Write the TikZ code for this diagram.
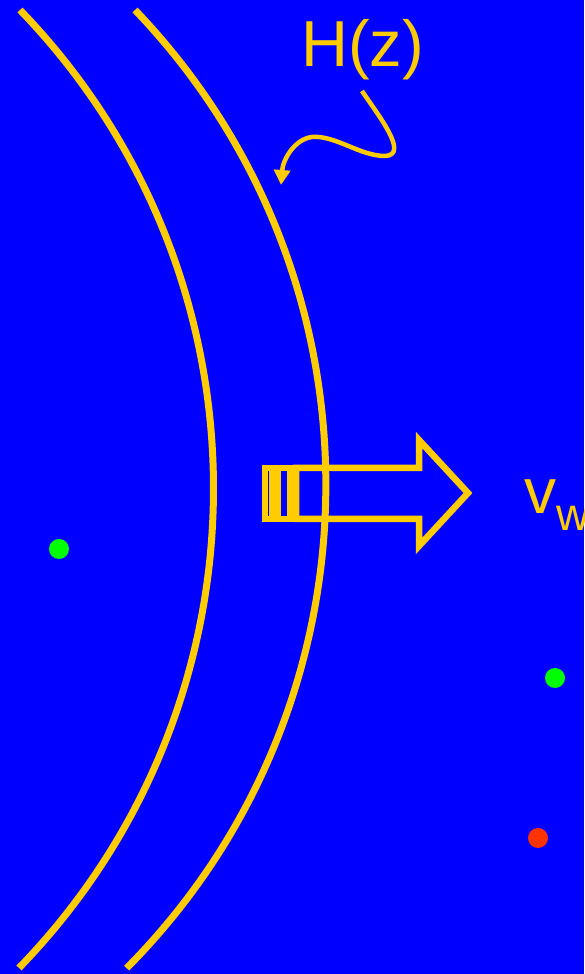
\documentclass[tikz,border=0pt]{standalone}
\usepackage{fontspec}
\setmainfont{Liberation Sans}
\usetikzlibrary{arrows.meta}
\definecolor{bgblue}{HTML}{0000FF}
\definecolor{wallyellow}{HTML}{FFCC00}
\definecolor{dotgreen}{HTML}{00FF00}
\definecolor{dotred}{HTML}{FF3300}
\tikzset{
  wall/.style={draw=wallyellow, line width=7pt},
  blockarrow/.style={draw=wallyellow, line width=6.5pt, line join=miter},
  particle/.style={circle, inner sep=0pt, minimum size=20pt},
  label/.style={text=wallyellow, inner sep=0pt, anchor=base west},
  pointer/.style={draw=wallyellow, line width=4.5pt, -{Triangle[length=15pt,width=16pt]}}
}
\begin{document}
\begin{tikzpicture}[x=1pt,y=1pt]
  \useasboundingbox (0,0) rectangle (584,974);
  \clip (0,0) rectangle (584,974);
  \fill[bgblue] (0,0) rectangle (584,974);
  % bubble walls
  \draw[wall] (20,964) arc[start angle=44.04, end angle=-44.16, radius=688.3];
  \draw[wall] (135,964) arc[start angle=43.8, end angle=-44.8, radius=686];
  % velocity block arrow with tail
  \draw[blockarrow] (265,506) rectangle (272,455);
  \draw[blockarrow] (278,506) rectangle (290,455);
  \draw[blockarrow] (296,506) -- (419,506) -- (419,534) -- (468,481) -- (419,428) -- (419,455) -- (296,455) -- cycle;
  % labels
  \node[label, font=\fontsize{65}{70}\selectfont] (hz) at (301,907) {H(z)};
  \node[label, font=\fontsize{64}{70}\selectfont] (vw) at (524,460) {v\raisebox{-17pt}{\fontsize{46}{50}\selectfont w}};
  % pointer from H(z) to wall
  \coordinate (ptstart) at (362,883);
  \coordinate (pttip) at (281,789);
  \draw[pointer] (ptstart) .. controls (378,859) and (410,819) .. (385,818)
     .. controls (360,818) and (335,839) .. (312,837)
     .. controls (295,835) and (283,815) .. (pttip);
  % particles
  \node[particle, fill=dotgreen] (g1) at (59,425) {};
  \node[particle, fill=dotgreen] (g2) at (555,296) {};
  \node[particle, fill=dotred] (r1) at (538,136) {};
\end{tikzpicture}
\end{document}
